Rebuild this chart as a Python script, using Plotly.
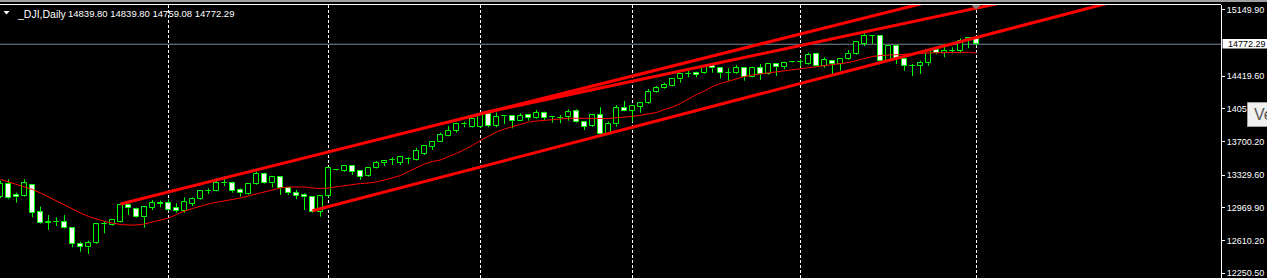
import plotly.graph_objects as go

# ---------------- data ----------------
opens = [13094, 13234, 13116, 13105, 13223, 12922, 12808, 12812, 12812, 12746,
         12570, 12537, 12581, 12790, 12779, 12819, 13003, 12955, 12867, 12973,
         13020, 13021, 12966, 12940, 13014, 13065, 13155, 13160, 13240, 13241,
         13168, 13124, 13230, 13344, 13241, 13307, 13186, 13131, 13113, 13087,
         12929, 13098, 13385, 13377, 13432, 13377, 13322, 13413, 13462, 13496,
         13468, 13511, 13498, 13564, 13644, 13699, 13765, 13821, 13889, 13865,
         13858, 14004, 13872, 13980, 13982, 13931, 13990, 13957, 14012, 13972,
         13962, 13975, 14034, 13913, 13872, 13990, 13781, 13891, 14067, 14041,
         14085, 14122, 14243, 14287, 14316, 14386, 14443, 14459, 14453, 14533,
         14508, 14457, 14453, 14508, 14415, 14508, 14442, 14555, 14519, 14572,
         14572, 14555, 14665, 14536, 14591, 14555, 14607, 14662, 14775, 14863,
         14865, 14591, 14753, 14607, 14535, 14536, 14563, 14709, 14673, 14699,
         14701, 14819, 14839.80]
highs = [13270, 13285, 13138, 13285, 13234, 12984, 12892, 12867, 12892, 12755,
         12598, 12609, 12799, 12819, 12843, 13010, 13021, 12973, 12984, 13058,
         13050, 13065, 13021, 13087, 13087, 13164, 13186, 13296, 13314, 13259,
         13186, 13241, 13369, 13358, 13314, 13314, 13201, 13168, 13131, 13094,
         13105, 13413, 13389, 13443, 13443, 13385, 13413, 13487, 13498, 13528,
         13545, 13528, 13633, 13663, 13707, 13799, 13872, 13909, 13920, 13960,
         14015, 14012, 14019, 13993, 13988, 14012, 13999, 14048, 14030, 13982,
         13993, 14056, 14056, 13922, 13999, 14078, 13920, 14103, 14148, 14100,
         14129, 14280, 14313, 14349, 14397, 14453, 14478, 14470, 14541, 14538,
         14514, 14508, 14544, 14516, 14525, 14555, 14563, 14563, 14580, 14577,
         14607, 14679, 14679, 14629, 14599, 14613, 14709, 14800, 14893, 14869,
         14869, 14761, 14761, 14613, 14555, 14591, 14717, 14739, 14775, 14739,
         14838, 14840, 14839.80]
lows = [13080, 13065, 13028, 13096, 12867, 12793, 12727, 12771, 12738, 12537,
        12488, 12463, 12573, 12691, 12771, 12812, 12892, 12859, 12753, 12947,
        12977, 12940, 12918, 12918, 12991, 13058, 13124, 13153, 13212, 13138,
        13096, 13116, 13223, 13234, 13197, 13113, 13113, 13065, 12947, 12918,
        12874, 13090, 13381, 13369, 13333, 13278, 13314, 13406, 13432, 13443,
        13443, 13454, 13492, 13553, 13608, 13696, 13759, 13799, 13858, 13856,
        13850, 13858, 13858, 13894, 13847, 13924, 13931, 13949, 13931, 13909,
        13902, 13931, 13905, 13828, 13861, 13773, 13773, 13865, 14034, 13920,
        14019, 14114, 14236, 14280, 14309, 14349, 14408, 14408, 14445, 14459,
        14397, 14371, 14445, 14371, 14408, 14379, 14434, 14423, 14497, 14569,
        14525, 14547, 14530, 14514, 14423, 14481, 14599, 14654, 14753, 14775,
        14585, 14585, 14555, 14481, 14423, 14445, 14536, 14662, 14629, 14673,
        14673, 14728, 14759.08]
closes = [13234, 13076, 13087, 13241, 12918, 12801, 12812, 12815, 12746, 12570,
          12543, 12581, 12790, 12794, 12837, 13003, 12966, 12867, 12977, 13021,
          13017, 12947, 12940, 13032, 13065, 13157, 13158, 13241, 13243, 13160,
          13131, 13234, 13344, 13241, 13307, 13186, 13131, 13105, 13087, 12929,
          13098, 13407, 13386, 13432, 13369, 13314, 13407, 13468, 13490, 13499,
          13528, 13513, 13600, 13652, 13699, 13773, 13817, 13894, 13892, 13949,
          14007, 13872, 13968, 13982, 13931, 13982, 13964, 14019, 13964, 13975,
          13965, 14023, 13913, 13865, 13990, 13781, 13891, 14067, 14041, 14092,
          14122, 14243, 14287, 14324, 14390, 14445, 14446, 14434, 14533, 14508,
          14453, 14460, 14508, 14415, 14508, 14442, 14555, 14519, 14563, 14574,
          14574, 14654, 14536, 14599, 14552, 14607, 14665, 14794, 14866, 14865,
          14591, 14753, 14607, 14536, 14538, 14569, 14709, 14673, 14698, 14701,
          14808, 14839.80, 14772.29]
moving_avg = [13285, 13256, 13234, 13206, 13173, 13135, 13091, 13047, 12997, 12953,
              12914, 12876, 12848, 12821, 12804, 12788, 12782, 12782, 12793, 12815,
              12837, 12859, 12898, 12936, 12964, 12991, 13014, 13032, 13047, 13063,
              13080, 13102, 13124, 13146, 13168, 13190, 13201, 13204, 13201, 13190,
              13184, 13190, 13204, 13217, 13230, 13239, 13245, 13256, 13278, 13305,
              13327, 13371, 13415, 13454, 13481, 13498, 13536, 13570, 13614, 13658,
              13713, 13762, 13806, 13839, 13867, 13894, 13916, 13927, 13935, 13938,
              13949, 13957, 13957, 13955, 13952, 13955, 13955, 13963, 13969, 13979,
              13990, 14004, 14021, 14054, 14081, 14120, 14170, 14219, 14258, 14307,
              14340, 14368, 14395, 14417, 14434, 14445, 14461, 14472, 14483, 14497,
              14508, 14519, 14525, 14533, 14544, 14558, 14571, 14593, 14615, 14637,
              14648, 14654, 14660, 14665, 14671, 14673, 14676, 14679, 14682, 14684,
              14684, 14684, 14676]
month_start_bars = [21, 41, 60, 79, 100, 122]
trend_upper_a = [(15, 13014), (125, 15436)]
trend_upper_b = [(60, 14010), (135, 15414)]
trend_lower = [(39, 12939), (160, 15721)]
tick_values = [15149.90, 14419.60, 14059.90, 13700.20, 13329.60, 12969.90, 12610.20, 12250.50]
last_price = 14772.29
symbol_label = "_DJI,Daily"
ohlc_label = "14839.80 14839.80 14759.08 14772.29"

# ---------------- geometry helpers (layout only) ----------------
W, H = 1267, 278
ML, MR, MT, MB = 0, 46, 5, 0
PW, PH = W - ML - MR, H - MT - MB


def pxx(x):
    return (x - ML) / PW


def pxy(y):
    return (H - MB - y) / PH


GREEN = "#00ff00"
bars = list(range(len(opens)))

fig = go.Figure()

# candle bodies
fig.add_trace(go.Bar(
    x=bars,
    y=[max(abs(c - o), 1.5) for o, c in zip(opens, closes)],
    base=[min(o, c) for o, c in zip(opens, closes)],
    width=0.55,
    marker=dict(color=["#000000" if c >= o else "#ffffff" for o, c in zip(opens, closes)],
                line=dict(color=GREEN, width=1)),
    hoverinfo="skip",
))

# wicks
wx, wy = [], []
for k, o, h, l, c in zip(bars, opens, highs, lows, closes):
    top, bot = max(o, c), min(o, c)
    if h > top:
        wx += [k, k, None]
        wy += [top, h, None]
    if l < bot:
        wx += [k, k, None]
        wy += [l, bot, None]
fig.add_trace(go.Scatter(x=wx, y=wy, mode="lines", line=dict(color=GREEN, width=1),
                         hoverinfo="skip"))

# moving average
fig.add_trace(go.Scatter(x=bars, y=moving_avg, mode="lines",
                         line=dict(color="#ff0000", width=1), hoverinfo="skip"))

# trend lines
for tl in (trend_upper_a, trend_upper_b, trend_lower):
    fig.add_trace(go.Scatter(x=[p[0] for p in tl], y=[p[1] for p in tl], mode="lines",
                             line=dict(color="#ff0000", width=3), hoverinfo="skip"))

shapes = []
for b in month_start_bars:
    shapes.append(dict(type="line", xref="x", yref="paper", x0=b, x1=b, y0=0, y1=1,
                       line=dict(color="#ffffff", width=1, dash="3px,2px"), layer="below"))
# bid line
shapes.append(dict(type="line", xref="paper", yref="y", x0=0, x1=1, y0=last_price, y1=last_price,
                   line=dict(color="#778899", width=1), layer="below"))
# window frame at top
shapes.append(dict(type="rect", xref="paper", yref="paper", x0=0, x1=pxx(W), y0=pxy(2), y1=pxy(0),
                   fillcolor="#a0a0a0", line=dict(width=0)))
shapes.append(dict(type="line", xref="paper", yref="paper", x0=0, x1=1, y0=pxy(4.5), y1=pxy(4.5),
                   line=dict(color="#ffffff", width=1)))
# chart-shift marker
shapes.append(dict(type="path", xref="paper", yref="paper",
                   path=f"M {pxx(971.5)},{pxy(5)} L {pxx(980.5)},{pxy(5)} L {pxx(976)},{pxy(9.5)} Z",
                   fillcolor="#808080", line=dict(width=0)))
# title triangle
shapes.append(dict(type="path", xref="paper", yref="paper",
                   path=f"M {pxx(3.5)},{pxy(11)} L {pxx(9.5)},{pxy(11)} L {pxx(6.5)},{pxy(14.5)} Z",
                   fillcolor="#ffffff", line=dict(width=0)))
# last price box
shapes.append(dict(type="rect", xref="paper", yref="paper", x0=pxx(1222.5), x1=pxx(W),
                   y0=pxy(48.5), y1=pxy(39), fillcolor="#ffffff", line=dict(width=0)))
# tooltip box
shapes.append(dict(type="rect", xref="paper", yref="paper", x0=pxx(1247.5), x1=pxx(1272),
                   y0=pxy(126.5), y1=pxy(102.5), fillcolor="#f0f0f0",
                   line=dict(color="#a0a0a0", width=1)))

annotations = [
    dict(text=symbol_label, xref="paper", yref="paper", x=pxx(15), y=pxy(13.5),
         xanchor="left", yanchor="middle", showarrow=False,
         font=dict(color="#ffffff", size=10.5, family="Liberation Sans")),
    dict(text=ohlc_label, xref="paper", yref="paper", x=pxx(65.5), y=pxy(13.5),
         xanchor="left", yanchor="middle", showarrow=False,
         font=dict(color="#ffffff", size=9.5, family="Liberation Sans")),
    dict(text=f"{last_price:.2f}", xref="paper", yref="paper", x=pxx(1226), y=pxy(44),
         xanchor="left", yanchor="middle", showarrow=False,
         font=dict(color="#000000", size=9, family="Liberation Sans")),
    dict(text="Ve", xref="paper", yref="paper", x=pxx(1251.5), y=pxy(114.5),
         xanchor="left", yanchor="middle", showarrow=False,
         font=dict(color="#555555", size=16, family="Liberation Sans")),
]

fig.update_layout(
    width=W, height=H,
    margin=dict(l=ML, r=MR, t=MT, b=MB),
    paper_bgcolor="#000000", plot_bgcolor="#000000",
    showlegend=False, bargap=0,
    shapes=shapes, annotations=annotations,
    xaxis=dict(visible=False, range=[-0.0625, PW / 8 - 0.0625], fixedrange=True),
    yaxis=dict(side="right", range=[12198.7, 15204.5],
               tickvals=tick_values, ticktext=[f"{v:.2f}" for v in tick_values],
               tickfont=dict(color="#ffffff", size=9, family="Liberation Sans"),
               ticks="outside", ticklen=3, tickcolor="#ffffff",
               ticklabeloverflow="allow",
               showline=True, linecolor="#ffffff", linewidth=1,
               showgrid=False, zeroline=False, fixedrange=True),
)

fig.write_html("out.html", config={"displayModeBar": False})
